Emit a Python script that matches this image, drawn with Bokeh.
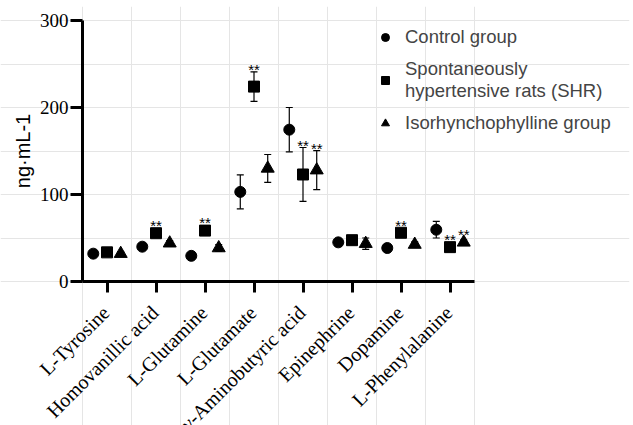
import math
from bokeh.plotting import figure
from bokeh.models import (ColumnDataSource, Range1d, Whisker, TeeHead, Label,
                          Legend, LegendItem, FixedTicker, LabelSet, LinearAxis)
from bokeh.embed import file_html
from bokeh.resources import INLINE
from bokeh.core.properties import value

categories = ["L-Tyrosine", "Homovanillic acid", "L-Glutamine", "L-Glutamate",
              "γ-Aminobutyric acid", "Epinephrine", "Dopamine", "L-Phenylalanine"]

control_mean = [32, 40, 29.5, 103, 174.5, 45, 38.5, 59.5]
control_err = [2, 3, 2, 19.5, 25.5, 3, 3, 9.5]
shr_mean = [33.5, 55.5, 58.5, 224, 123, 47.5, 56, 39.5]
shr_err = [2, 4, 4, 17, 31, 3, 4, 3]
iso_mean = [32, 44, 38.5, 130, 128, 43.5, 42.5, 45]
iso_err = [2, 3, 4, 16, 22.5, 6.5, 3, 3]
shr_sig = ["", "**", "**", "**", "**", "", "**", "**"]
iso_sig = ["", "", "", "", "**", "", "", "**"]

y_ticks = [0, 100, 200, 300]
y_label = "ng·mL-1"

# category positions on a numeric scale (category i centred at i + 0.5)
cat_pos = [i + 0.5 for i in range(len(categories))]
n_cat = len(categories)

series = [
    ("Control group", control_mean, control_err, ["" for _ in categories], "circle", -0.28, 11),
    ("Spontaneously\nhypertensive rats (SHR)", shr_mean, shr_err, shr_sig, "square", 0.0, 11),
    ("Isorhynchophylline group", iso_mean, iso_err, iso_sig, "triangle", 0.28, 13),
]

# ---- layout (pixels) ----
W, H = 633, 425
b_left, b_right, b_top, b_bottom = 0, 4, 6, 0
frame_l, frame_r, frame_t, frame_b = b_left, W - b_right, b_top, H - b_bottom
axis_x0, axis_x1 = 82, 474      # pixel extent of the category axis
axis_y0, axis_y1 = 281, 20      # pixel positions of 0 and y_max
y_max = 300
ppc = (axis_x1 - axis_x0) / n_cat           # pixels per category
ppu = (axis_y0 - axis_y1) / y_max           # pixels per value unit
x_start = -(axis_x0 - frame_l) / ppc
x_end = (frame_r - axis_x0) / ppc
y_start = -(frame_b - axis_y0) / ppu
y_end = y_max + (axis_y1 - frame_t) / ppu
cat_label_y = -20 / ppu
ylab_x = -(axis_x0 - 22) / ppc

p = figure(width=W, height=H, x_range=Range1d(x_start, x_end), y_range=Range1d(y_start, y_end),
           output_backend="svg", toolbar_location=None,
           x_axis_location=None, y_axis_location=None,
           min_border_left=b_left, min_border_right=b_right, min_border_top=b_top,
           min_border_bottom=b_bottom)
p.outline_line_color = None
p.background_fill_color = "white"
p.border_fill_color = "white"

# axes: line and ticks drawn by Bokeh at the data origin; ticks point towards the labels
yax = LinearAxis(fixed_location=0, ticker=FixedTicker(ticks=y_ticks, minor_ticks=[]),
                 bounds=(0, y_max), axis_line_width=3, major_tick_line_width=3,
                 major_tick_in=12, major_tick_out=0, minor_tick_line_color=None,
                 major_label_text_font_size="0px", major_label_text_alpha=0,
                 major_label_standoff=0)
p.add_layout(yax, "right")
xax = LinearAxis(fixed_location=0, ticker=FixedTicker(ticks=cat_pos, minor_ticks=[]),
                 bounds=(0, n_cat), axis_line_width=3, major_tick_line_width=3,
                 major_tick_in=11, major_tick_out=0, minor_tick_line_color=None,
                 major_label_text_font_size="0px", major_label_text_alpha=0,
                 major_label_standoff=0)
p.add_layout(xax, "above")

items = []
for name, mean, err, sig, marker, off, size in series:
    xs = [c + off for c in cat_pos]
    upper = [m + e for m, e in zip(mean, err)]
    lower = [m - e for m, e in zip(mean, err)]
    star_y = [max(m + e, m + 6.5) for m, e in zip(mean, err)]
    src = ColumnDataSource(dict(x=xs, mean=mean, upper=upper, lower=lower,
                                star_y=star_y, sig=sig))
    w = Whisker(base="x", upper="upper", lower="lower",
                source=src, dimension="height", line_color="black", line_width=1.2)
    w.upper_head = TeeHead(size=7, line_color="black", line_width=1.2)
    w.lower_head = TeeHead(size=7, line_color="black", line_width=1.2)
    p.add_layout(w)
    r = p.scatter(x="x", y="mean", source=src, marker=marker,
                  size=size, fill_color="black", line_color="black")
    p.text(x="x", y="star_y", text="sig", source=src,
           text_font=value("Liberation Sans"), text_font_size="15px", text_color="black",
           text_align="center", text_baseline="alphabetic", y_offset=-2)
    items.append(LegendItem(label=name, renderers=[r]))

legend = Legend(items=items, location=(375 - frame_l, frame_b - 134), padding=0, margin=0,
                border_line_color=None, background_fill_alpha=0,
                label_text_font="Liberation Sans", label_text_font_size="18.5px",
                label_standoff=10, glyph_width=20, glyph_height=20, spacing=10,
                label_text_line_height=1.42)
p.add_layout(legend, "center")

# value-axis tick labels and title
ytick_src = ColumnDataSource(dict(x=[0] * len(y_ticks), y=y_ticks, text=[str(t) for t in y_ticks]))
p.add_layout(LabelSet(x="x", y="y", text="text", source=ytick_src, x_offset=-14,
                      text_align="right", text_baseline="middle",
                      text_font="Liberation Sans", text_font_size="19px", text_color="black"))
p.add_layout(Label(x=ylab_x, y=y_max / 2, text=y_label, angle=math.pi / 2,
                   text_align="center", text_baseline="middle",
                   text_font="Liberation Sans", text_font_size="20px", text_color="black"))

# category labels, rotated 45 degrees
cat_src = ColumnDataSource(dict(x=cat_pos, y=[cat_label_y] * n_cat, text=categories))
p.add_layout(LabelSet(x="x", y="y", text="text", source=cat_src, angle=math.pi / 4,
                      text_align="right", text_baseline="top", x_offset=-9,
                      text_font="Liberation Serif", text_font_size="20px",
                      text_color="black"))

open("out.html", "w").write(file_html(p, INLINE))
